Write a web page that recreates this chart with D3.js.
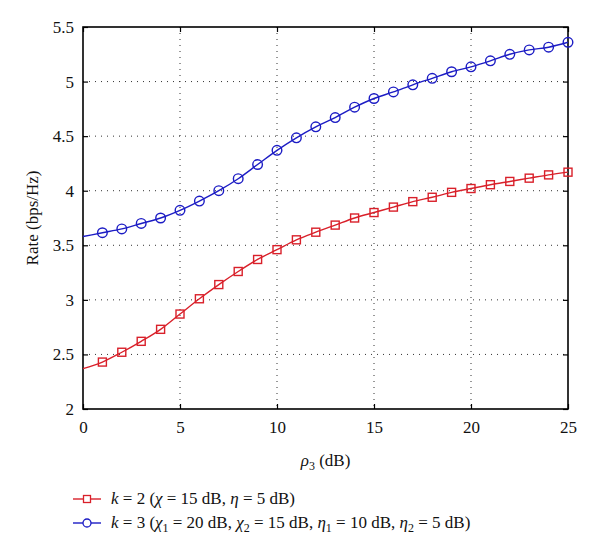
<!DOCTYPE html>
<html>
<head>
<meta charset="utf-8">
<script src="https://cdn.jsdelivr.net/npm/d3@7/dist/d3.min.js"></script>
<style>
body{margin:0;background:#fff;}
text{font-family:"Liberation Serif","DejaVu Serif",serif;fill:#111;}
</style>
</head>
<body>
<svg id="chart" width="600" height="556"></svg>
<script>
const rho = [0,1,2,3,4,5,6,7,8,9,10,11,12,13,14,15,16,17,18,19,20,21,22,23,24,25];
const rateK2 = [2.37,2.43,2.52,2.62,2.73,2.87,3.01,3.14,3.26,3.37,3.46,3.55,3.62,3.685,3.75,3.80,3.85,3.90,3.94,3.985,4.02,4.055,4.085,4.115,4.145,4.17];
const rateK3 = [3.58,3.615,3.65,3.70,3.75,3.82,3.905,4.00,4.11,4.24,4.37,4.485,4.585,4.67,4.765,4.845,4.905,4.97,5.03,5.09,5.135,5.19,5.25,5.29,5.315,5.36];
const xTicks = [0,5,10,15,20,25];
const yTicks = [2,2.5,3,3.5,4,4.5,5,5.5];

const svg = d3.select("#chart");
const L=83, R=568, T=27, B=409;
const x = d3.scaleLinear().domain([0,25]).range([L,R]);
const y = d3.scaleLinear().domain([2,5.5]).range([B,T]);

// grid
const g = svg.append("g");
g.selectAll(".gx").data(xTicks.slice(1,-1)).enter().append("line")
  .attr("x1",d=>x(d)).attr("x2",d=>x(d)).attr("y1",T).attr("y2",B)
  .attr("stroke","#333").attr("stroke-width",1).attr("stroke-dasharray","1,5");
g.selectAll(".gy").data(yTicks.slice(1,-1)).enter().append("line")
  .attr("y1",d=>y(d)).attr("y2",d=>y(d)).attr("x1",L).attr("x2",R)
  .attr("stroke","#333").attr("stroke-width",1).attr("stroke-dasharray","1,5");

// axes with inward ticks
const fmt = d=>String(d);
svg.append("g").attr("transform",`translate(0,${B})`)
  .call(d3.axisBottom(x).tickValues(xTicks).tickSize(-5).tickPadding(12).tickFormat(fmt))
  .call(a=>{a.select(".domain").remove();a.selectAll("text").attr("font-size",17).style("font-family","Liberation Serif");});
svg.append("g").attr("transform",`translate(0,${T})`)
  .call(d3.axisTop(x).tickValues(xTicks).tickSize(-5).tickFormat(""))
  .call(a=>a.select(".domain").remove());
svg.append("g").attr("transform",`translate(${L},0)`)
  .call(d3.axisLeft(y).tickValues(yTicks).tickSize(-5).tickPadding(9).tickFormat(fmt))
  .call(a=>{a.select(".domain").remove();a.selectAll("text").attr("font-size",17).style("font-family","Liberation Serif");});
svg.append("g").attr("transform",`translate(${R},0)`)
  .call(d3.axisRight(y).tickValues(yTicks).tickSize(-5).tickFormat(""))
  .call(a=>a.select(".domain").remove());
svg.selectAll(".tick line").attr("stroke","#000").attr("stroke-width",1.2);

svg.append("rect").attr("x",L).attr("y",T).attr("width",R-L).attr("height",B-T)
  .attr("fill","none").attr("stroke","#000").attr("stroke-width",1.6);

// series
const red="#d9202a", blue="#1c1cc4";
const line = d3.line().x(d=>x(d[0])).y(d=>y(d[1])).curve(d3.curveMonotoneX);
const d2 = rho.map((r,i)=>[r,rateK2[i]]);
const d3s = rho.map((r,i)=>[r,rateK3[i]]);
svg.append("path").datum(d2).attr("d",line).attr("fill","none").attr("stroke",red).attr("stroke-width",1.4);
svg.append("path").datum(d3s).attr("d",line).attr("fill","none").attr("stroke",blue).attr("stroke-width",1.4);
const s=8;
svg.selectAll(".sq").data(d2.filter(d=>d[0]>=1)).enter().append("rect")
  .attr("x",d=>x(d[0])-s/2).attr("y",d=>y(d[1])-s/2).attr("width",s).attr("height",s)
  .attr("fill","none").attr("stroke",red).attr("stroke-width",1.4);
svg.selectAll(".ci").data(d3s.filter(d=>d[0]>=1)).enter().append("circle")
  .attr("cx",d=>x(d[0])).attr("cy",d=>y(d[1])).attr("r",4.8)
  .attr("fill","none").attr("stroke",blue).attr("stroke-width",1.4);

// axis labels
svg.append("text").attr("transform",`translate(38,${(T+B)/2}) rotate(-90)`)
  .attr("text-anchor","middle").attr("font-size",17).text("Rate (bps/Hz)");
const xl = svg.append("text").attr("x",(L+R)/2).attr("y",466).attr("text-anchor","middle").attr("font-size",17);
xl.append("tspan").attr("font-style","italic").text("ρ");
xl.append("tspan").attr("font-size",12).attr("dy",4).text("3");
xl.append("tspan").attr("dy",-4).text(" (dB)");

// legend
function leg(yy,color,shape,parts){
  svg.append("line").attr("x1",73).attr("x2",101).attr("y1",yy).attr("y2",yy).attr("stroke",color).attr("stroke-width",1.4);
  if(shape==="sq") svg.append("rect").attr("x",87-3.5).attr("y",yy-3.5).attr("width",7).attr("height",7).attr("fill","#fff").attr("stroke",color).attr("stroke-width",1.3);
  else svg.append("circle").attr("cx",87).attr("cy",yy).attr("r",4).attr("fill","#fff").attr("stroke",color).attr("stroke-width",1.3);
  const t = svg.append("text").attr("x",111).attr("y",yy+5).attr("font-size",17);
  parts.forEach(p=>{
    const ts = t.append("tspan").text(p[0]);
    if(p[1]==="i") ts.attr("font-style","italic");
    if(p[1]==="sub") ts.attr("font-size",12).attr("dy",4);
    if(p[2]) ts.attr("dy",p[2]);
  });
}
leg(499,red,"sq",[["k","i"],[" = 2 ("],["χ","i"],[" = 15 dB, "],["η","i"],[" = 5 dB)"]]);
leg(523,blue,"ci",[["k","i"],[" = 3 ("],["χ","i"],["1","sub"],[" = 20 dB, ",null,-4],["χ","i"],["2","sub"],[" = 15 dB, ",null,-4],["η","i"],["1","sub"],[" = 10 dB, ",null,-4],["η","i"],["2","sub"],[" = 5 dB)",null,-4]]);
</script>
</body>
</html>
